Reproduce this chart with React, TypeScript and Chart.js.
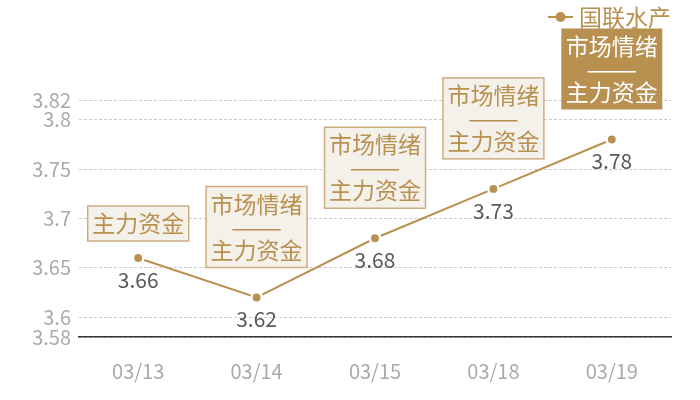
import React, { useEffect, useRef } from "react";
import { Chart, registerables } from "chart.js";

Chart.register(...registerables);

const categories = ["03/13", "03/14", "03/15", "03/18", "03/19"];
const seriesName = "国联水产";
const values = [3.66, 3.62, 3.68, 3.73, 3.78];
const yTicks = [3.58, 3.6, 3.65, 3.7, 3.75, 3.8, 3.82];
const annotations = [
  ["主力资金"],
  ["市场情绪", "——", "主力资金"],
  ["市场情绪", "——", "主力资金"],
  ["市场情绪", "——", "主力资金"],
  ["市场情绪", "——", "主力资金"],
];
const highlightIndex = 4;

const GOLD = "#b8904f";
const BOX_FILL = "#f4f0ea";
const BOX_BORDER = "#cdae80";
const CJK = '"Noto Sans CJK SC", "Noto Sans", sans-serif';

const overlayPlugin = {
  id: "overlay",
  afterDatasetsDraw(chart: any) {
    const ctx = chart.ctx;
    const meta = chart.getDatasetMeta(0);
    ctx.save();
    // value labels
    ctx.font = `21px ${CJK}`;
    ctx.fillStyle = "#595959";
    ctx.textAlign = "center";
    ctx.textBaseline = "middle";
    meta.data.forEach((pt: any, i: number) => {
      ctx.fillText(String(values[i]), pt.x, pt.y + 22);
    });
    // annotation boxes
    const lh = 23;
    const pad = 6;
    const w = 101;
    meta.data.forEach((pt: any, i: number) => {
      const lines = annotations[i];
      const h = lines.length * lh + pad * 2;
      const gap = lines.length === 1 ? 17 : 30;
      const bottom = pt.y - gap;
      const top = bottom - h;
      const left = pt.x - w / 2;
      const hl = i === highlightIndex;
      ctx.fillStyle = hl ? GOLD : BOX_FILL;
      ctx.fillRect(left, top, w, h);
      if (!hl) {
        ctx.strokeStyle = BOX_BORDER;
        ctx.lineWidth = 1.5;
        ctx.strokeRect(left, top, w, h);
      }
      ctx.fillStyle = hl ? "#ffffff" : GOLD;
      ctx.font = `23px ${CJK}`;
      ctx.textAlign = "center";
      ctx.textBaseline = "middle";
      lines.forEach((t, j) => {
        const cy = top + pad + lh * j + lh / 2;
        if (t.startsWith("—")) {
          const mw = ctx.measureText(t).width || 1;
          ctx.save();
          ctx.translate(pt.x, cy);
          ctx.scale(51 / mw, 1);
          ctx.fillText(t, 0, 0);
          ctx.restore();
        } else {
          ctx.fillText(t, pt.x, cy);
        }
      });
    });
    // legend
    ctx.strokeStyle = GOLD;
    ctx.lineWidth = 2;
    ctx.beginPath();
    ctx.moveTo(548, 17);
    ctx.lineTo(573, 17);
    ctx.stroke();
    ctx.fillStyle = GOLD;
    ctx.beginPath();
    ctx.arc(560.5, 17, 5, 0, Math.PI * 2);
    ctx.fill();
    ctx.font = `23px ${CJK}`;
    ctx.textAlign = "left";
    ctx.textBaseline = "middle";
    ctx.fillText(seriesName, 579, 17);
    ctx.restore();
  },
};

export default function App() {
  const ref = useRef<HTMLCanvasElement>(null);
  useEffect(() => {
    if (!ref.current) return;
    const chart = new Chart(ref.current, {
      type: "line",
      data: {
        labels: categories,
        datasets: [
          {
            label: seriesName,
            data: values,
            borderColor: GOLD,
            borderWidth: 2,
            pointRadius: 5.2,
            pointHoverRadius: 5.2,
            pointBackgroundColor: GOLD,
            pointBorderColor: "#ffffff",
            pointBorderWidth: 2.5,
            tension: 0,
          },
        ],
      },
      plugins: [overlayPlugin],
      options: {
        animation: false,
        responsive: false,
        devicePixelRatio: 1,
        layout: { padding: { top: 100, right: 29, left: 0, bottom: 0 } },
        plugins: {
          legend: { display: false },
          tooltip: { enabled: false },
        },
        scales: {
          x: {
            offset: true,
            grid: { display: false, drawTicks: false },
            border: { display: true, color: "#333333", width: 1.5 },
            ticks: {
              color: "#aaaaaa",
              font: { size: 20, family: CJK },
              padding: 22,
              maxRotation: 0,
            },
            afterFit: (s: any) => {
              s.height = 63;
            },
          },
          y: {
            min: 3.58,
            max: 3.82,
            afterBuildTicks: (axis: any) => {
              axis.ticks = yTicks.map((v) => ({ value: v }));
            },
            grid: { color: "#cccccc", lineWidth: 1, drawTicks: false },
            border: { display: false, dash: [3, 2] },
            ticks: {
              color: "#aaaaaa",
              font: { size: 20, family: CJK },
              padding: 8,
              autoSkip: false,
              callback: (v: any) => String(v),
            },
            afterFit: (s: any) => {
              s.width = 79;
            },
          },
        },
      },
    });
    return () => chart.destroy();
  }, []);
  return (
    <div style={{ position: "fixed", left: 0, top: 0, width: 700, height: 400, background: "#fff" }}>
      <canvas ref={ref} width={700} height={400} style={{ width: 700, height: 400, display: "block" }} />
    </div>
  );
}
